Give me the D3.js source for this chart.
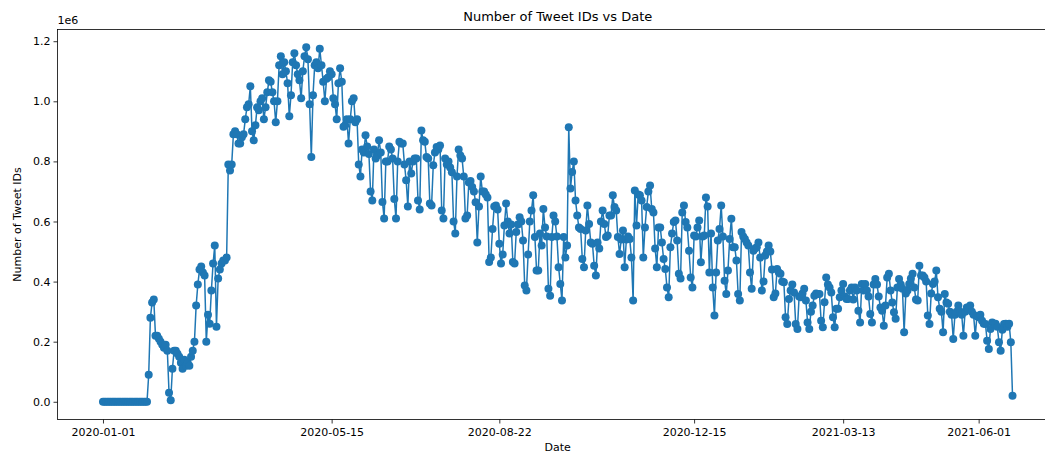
<!DOCTYPE html>
<html>
<head>
<meta charset="utf-8">
<script src="https://cdn.jsdelivr.net/npm/d3@7"></script>
<style>
  body { margin: 0; background: #fff; }
  text { font-family: "DejaVu Sans", sans-serif; fill: #000; }
</style>
</head>
<body>
<div id="chart"></div>
<script>
// one value per day, starting at startDate, in units of 1e6 tweet ids
var startDate = "2020-01-01";
var tweetIds = [
  0,0,0,0,0,0,0,0,0,0,
  0,0,0,0,0,0,0,0,0,0,
  0,0,0,0,0,0,0,0.09,0.28,0.33,
  0.34,0.22,0.22,0.21,0.20,0.19,0.18,0.19,0.17,0.03,
  0.005,0.11,0.17,0.17,0.16,0.15,0.13,0.11,0.14,0.12,
  0.13,0.12,0.15,0.17,0.20,0.32,0.39,0.44,0.45,0.43,
  0.42,0.20,0.29,0.26,0.37,0.46,0.52,0.25,0.41,0.44,
  0.46,0.47,0.47,0.48,0.79,0.77,0.79,0.89,0.90,0.89,
  0.86,0.86,0.88,0.89,0.94,0.98,0.99,1.05,0.90,0.87,
  0.92,0.98,0.97,1.00,1.01,0.94,0.98,1.03,1.07,1.065,
  1.03,1.00,0.93,1.00,1.12,1.15,1.09,1.13,1.10,1.06,
  0.95,1.02,1.13,1.16,1.12,1.09,1.07,1.01,1.10,1.15,
  1.18,1.14,0.99,0.815,1.02,1.12,1.13,1.11,1.175,1.12,
  1.065,1.00,1.075,1.08,1.10,1.09,1.01,0.99,0.94,1.06,
  1.11,1.065,0.915,0.92,0.94,0.86,0.94,1.00,1.01,0.93,
  0.94,0.79,0.75,0.84,0.83,0.887,0.85,0.825,0.70,0.67,
  0.84,0.81,0.82,0.87,0.83,0.665,0.61,0.80,0.80,0.85,
  0.84,0.81,0.675,0.61,0.80,0.865,0.86,0.86,0.79,0.737,
  0.65,0.80,0.76,0.80,0.81,0.81,0.67,0.64,0.903,0.87,
  0.865,0.815,0.81,0.66,0.653,0.787,0.83,0.848,0.84,0.853,
  0.637,0.61,0.81,0.79,0.80,0.78,0.764,0.60,0.56,0.75,
  0.84,0.82,0.81,0.75,0.61,0.62,0.73,0.735,0.715,0.70,
  0.664,0.53,0.65,0.75,0.70,0.70,0.69,0.68,0.465,0.48,
  0.575,0.65,0.653,0.64,0.526,0.46,0.49,0.587,0.66,0.60,
  0.56,0.59,0.465,0.46,0.565,0.59,0.614,0.60,0.537,0.387,
  0.37,0.49,0.60,0.637,0.687,0.548,0.437,0.437,0.56,0.52,
  0.642,0.58,0.55,0.376,0.353,0.548,0.62,0.60,0.55,0.448,
  0.392,0.337,0.548,0.48,0.52,0.914,0.71,0.765,0.80,0.67,
  0.62,0.58,0.575,0.475,0.448,0.57,0.653,0.592,0.53,0.526,
  0.453,0.42,0.53,0.51,0.60,0.637,0.592,0.548,0.553,0.62,
  0.62,0.687,0.648,0.637,0.548,0.492,0.54,0.57,0.448,0.54,
  0.55,0.542,0.48,0.337,0.703,0.587,0.69,0.687,0.67,0.48,
  0.58,0.648,0.70,0.72,0.642,0.63,0.51,0.448,0.58,0.58,
  0.53,0.475,0.442,0.38,0.348,0.514,0.56,0.598,0.603,0.537,
  0.426,0.41,0.63,0.653,0.598,0.58,0.503,0.414,0.38,0.553,
  0.55,0.58,0.603,0.464,0.55,0.553,0.68,0.65,0.43,0.56,
  0.38,0.287,0.43,0.537,0.575,0.653,0.55,0.403,0.359,0.437,
  0.542,0.609,0.514,0.514,0.47,0.359,0.337,0.565,0.55,0.542,
  0.53,0.52,0.43,0.376,0.503,0.51,0.514,0.53,0.48,0.37,
  0.40,0.487,0.50,0.52,0.50,0.44,0.348,0.36,0.442,0.43,
  0.426,0.40,0.398,0.281,0.259,0.342,0.37,0.39,0.364,0.259,
  0.242,0.35,0.348,0.36,0.376,0.337,0.264,0.242,0.30,0.32,
  0.353,0.36,0.359,0.359,0.27,0.248,0.331,0.414,0.39,0.38,
  0.364,0.281,0.248,0.31,0.31,0.348,0.37,0.392,0.35,0.342,
  0.342,0.37,0.38,0.34,0.38,0.37,0.303,0.264,0.392,0.37,
  0.392,0.37,0.35,0.292,0.264,0.39,0.409,0.39,0.35,0.314,
  0.303,0.253,0.32,0.414,0.426,0.37,0.33,0.298,0.276,0.38,
  0.409,0.39,0.376,0.231,0.36,0.37,0.392,0.41,0.426,0.38,
  0.34,0.337,0.453,0.42,0.42,0.414,0.40,0.287,0.259,0.36,
  0.392,0.40,0.437,0.348,0.31,0.30,0.231,0.359,0.33,0.326,
  0.30,0.29,0.209,0.29,0.30,0.32,0.30,0.29,0.22,0.30,
  0.314,0.31,0.32,0.30,0.29,0.22,0.285,0.281,0.29,0.27,
  0.26,0.259,0.203,0.176,0.242,0.264,0.26,0.26,0.25,0.198,
  0.17,0.24,0.259,0.26,0.25,0.26,0.198,0.02
];
var xTickLabels = ["2020-01-01","2020-05-15","2020-08-22","2020-12-15","2021-03-13","2021-06-01"];
var yTickValues = [0, 0.2, 0.4, 0.6, 0.8, 1.0, 1.2];

(function(){
var width = 1045, height = 454;
var plotLeft = 57.5, plotRight = 1058, plotTop = 29.5, plotBottom = 419.5;
var blue = "#1f77b4";

var parse = d3.utcParse("%Y-%m-%d");
var t0 = parse(startDate);
var points = tweetIds.map(function(v, i){ return {date: d3.utcDay.offset(t0, i), value: v}; });

// matplotlib style 5% margins
var xExt = d3.extent(points, function(d){ return +d.date; });
var xPad = (xExt[1] - xExt[0]) * 0.05;
var yExt = d3.extent(points, function(d){ return d.value; });
var yPad = (yExt[1] - yExt[0]) * 0.05;

var x = d3.scaleUtc()
  .domain([new Date(xExt[0] - xPad), new Date(xExt[1] + xPad)])
  .range([plotLeft, plotRight]);
var y = d3.scaleLinear()
  .domain([yExt[0] - yPad, yExt[1] + yPad])
  .range([plotBottom, plotTop]);

var svg = d3.select('#chart').append('svg')
  .attr('width', width)
  .attr('height', height)
  .style('display', 'block');

svg.append('rect').attr('width', width).attr('height', height).attr('fill', '#fff');

svg.append('defs').append('clipPath').attr('id', 'plotclip')
  .append('rect').attr('x', plotLeft).attr('y', plotTop)
  .attr('width', plotRight - plotLeft).attr('height', plotBottom - plotTop);

// x axis
var xAxis = d3.axisBottom(x)
  .tickValues(xTickLabels.map(parse))
  .tickFormat(d3.utcFormat("%Y-%m-%d"))
  .tickSize(4).tickPadding(5).tickSizeOuter(0);
var gx = svg.append('g').attr('transform', 'translate(0,' + plotBottom + ')').call(xAxis);
gx.select('.domain').remove();
gx.selectAll('text').style('font-size', '11px').style('font-family', '"DejaVu Sans", sans-serif');
gx.selectAll('line').attr('stroke', '#000').attr('stroke-width', 0.8);

// y axis
var yAxis = d3.axisLeft(y)
  .tickValues(yTickValues)
  .tickFormat(d3.format(".1f"))
  .tickSize(4).tickPadding(3).tickSizeOuter(0);
var gy = svg.append('g').attr('transform', 'translate(' + plotLeft + ',0)').call(yAxis);
gy.select('.domain').remove();
gy.selectAll('text').style('font-size', '11px').style('font-family', '"DejaVu Sans", sans-serif');
gy.selectAll('line').attr('stroke', '#000').attr('stroke-width', 0.8);

// data
var plot = svg.append('g').attr('clip-path', 'url(#plotclip)');
var line = d3.line()
  .x(function(d){ return x(d.date); })
  .y(function(d){ return y(d.value); });

plot.append('path')
  .datum(points)
  .attr('d', line)
  .attr('fill', 'none')
  .attr('stroke', blue)
  .attr('stroke-width', 1.5)
  .attr('stroke-linejoin', 'round');

plot.selectAll('circle')
  .data(points)
  .enter().append('circle')
  .attr('cx', function(d){ return x(d.date); })
  .attr('cy', function(d){ return y(d.value); })
  .attr('r', 4)
  .attr('fill', blue);

// spines
svg.append('rect')
  .attr('x', plotLeft).attr('y', plotTop)
  .attr('width', plotRight - plotLeft).attr('height', plotBottom - plotTop)
  .attr('fill', 'none').attr('stroke', '#000').attr('stroke-width', 0.8);

// texts
svg.append('text')
  .attr('x', (plotLeft + plotRight) / 2).attr('y', 21)
  .attr('text-anchor', 'middle')
  .style('font-size', '13px')
  .text('Number of Tweet IDs vs Date');

svg.append('text')
  .attr('x', plotLeft).attr('y', 24)
  .style('font-size', '11px')
  .text('1e6');

svg.append('text')
  .attr('transform', 'translate(21,' + ((plotTop + plotBottom) / 2) + ') rotate(-90)')
  .attr('text-anchor', 'middle')
  .style('font-size', '11px')
  .text('Number of Tweet IDs');

svg.append('text')
  .attr('x', (plotLeft + plotRight) / 2).attr('y', 451)
  .attr('text-anchor', 'middle')
  .style('font-size', '11px')
  .text('Date');
})();
</script>
</body>
</html>
